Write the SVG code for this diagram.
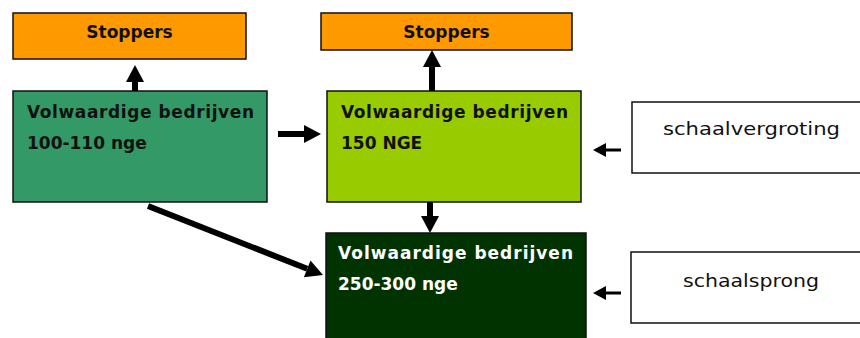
<svg xmlns="http://www.w3.org/2000/svg" width="860" height="338" viewBox="0 0 860 338">
  <style>
    .box { stroke: #111; stroke-width: 1.5; }
    .b { font-family: "DejaVu Sans", Verdana, sans-serif; font-weight: bold; font-size: 17px; }
    .r { font-family: "DejaVu Sans", Verdana, sans-serif; font-size: 18px; fill: #111; }
    .thick { stroke: #000; stroke-width: 6; fill: none; }
    .thin { stroke: #000; stroke-width: 3; fill: none; }
  </style>
  <defs>
    <marker id="headBig" markerUnits="userSpaceOnUse" markerWidth="18" markerHeight="18" refX="0" refY="9" orient="auto" overflow="visible">
      <path d="M0,0 L17,9 L0,18 z" fill="#000"/>
    </marker>
    <marker id="headSmall" markerUnits="userSpaceOnUse" markerWidth="14" markerHeight="14" refX="0" refY="7" orient="auto" overflow="visible">
      <path d="M0,0 L13,7 L0,14 z" fill="#000"/>
    </marker>
  </defs>
  <rect width="860" height="338" fill="#fff"/>

  <g id="stoppers-1">
    <rect class="box" x="13" y="13" width="233" height="46" fill="#ff9900"/>
    <text class="b" x="129.5" y="38" text-anchor="middle" fill="#111">Stoppers</text>
  </g>

  <g id="stoppers-2">
    <rect class="box" x="321" y="13" width="251" height="37" fill="#ff9900"/>
    <text class="b" x="446.5" y="38" text-anchor="middle" fill="#111">Stoppers</text>
  </g>

  <g id="bedrijven-100">
    <rect class="box" x="13" y="91" width="254" height="111" fill="#339966"/>
    <text class="b" x="27" y="118" fill="#111" textLength="227" lengthAdjust="spacing">Volwaardige bedrijven</text>
    <text class="b" x="27" y="149" fill="#111">100-110 nge</text>
  </g>

  <g id="bedrijven-150">
    <rect class="box" x="327" y="91" width="254" height="111" fill="#99cc00"/>
    <text class="b" x="341" y="118" fill="#111" textLength="227" lengthAdjust="spacing">Volwaardige bedrijven</text>
    <text class="b" x="341" y="149" fill="#111">150 NGE</text>
  </g>

  <g id="bedrijven-250">
    <rect class="box" x="326" y="233" width="260" height="110" fill="#003300"/>
    <text class="b" x="338" y="259" fill="#fff" textLength="235" lengthAdjust="spacing">Volwaardige bedrijven</text>
    <text class="b" x="338" y="290" fill="#fff">250-300 nge</text>
  </g>

  <g id="schaalvergroting">
    <rect class="box" x="632" y="102" width="240" height="71" fill="#fff"/>
    <text class="r" x="751.5" y="135" text-anchor="middle" textLength="177" lengthAdjust="spacingAndGlyphs">schaalvergroting</text>
  </g>

  <g id="schaalsprong">
    <rect class="box" x="631" y="252" width="240" height="71" fill="#fff"/>
    <text class="r" x="751" y="287" text-anchor="middle" textLength="136" lengthAdjust="spacingAndGlyphs">schaalsprong</text>
  </g>

  <g id="connectors">
    <line class="thick" x1="135" y1="91" x2="135" y2="82" marker-end="url(#headBig)"/>
    <line class="thick" x1="432" y1="91" x2="432" y2="67" marker-end="url(#headBig)"/>
    <line class="thick" x1="278" y1="134" x2="304" y2="134" marker-end="url(#headBig)"/>
    <line class="thick" x1="430" y1="202" x2="430" y2="216" marker-end="url(#headBig)"/>
    <line class="thick" x1="148" y1="206" x2="307.2" y2="268.8" marker-end="url(#headBig)"/>
    <line class="thin" x1="621" y1="150" x2="606" y2="150" marker-end="url(#headSmall)"/>
    <line class="thin" x1="621" y1="293" x2="606" y2="293" marker-end="url(#headSmall)"/>
  </g>
</svg>
